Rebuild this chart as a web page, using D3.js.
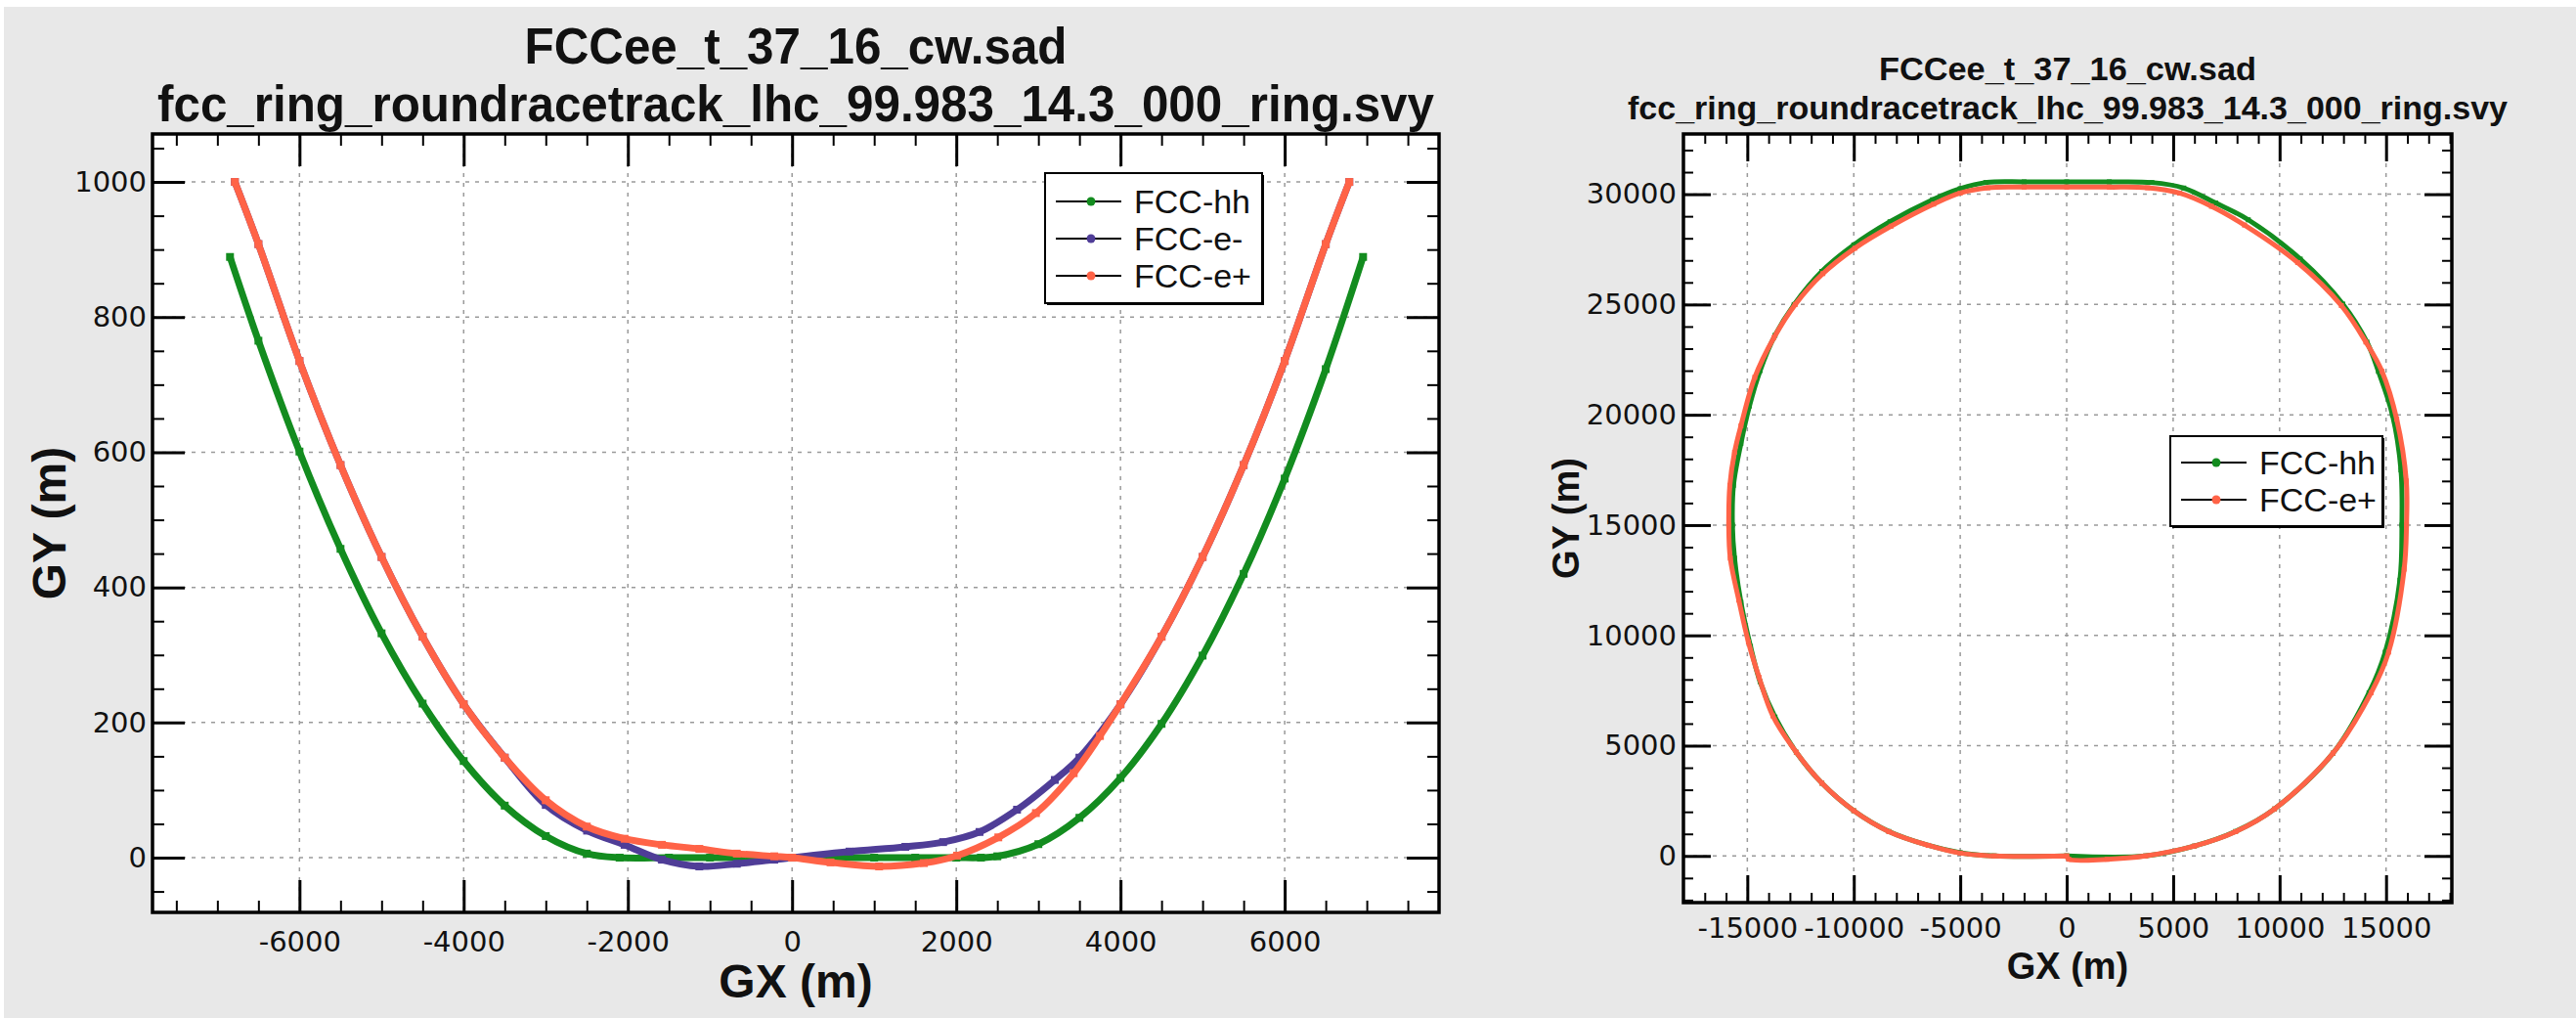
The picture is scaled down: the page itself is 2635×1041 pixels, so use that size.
<!DOCTYPE html>
<html>
<head>
<meta charset="utf-8">
<script src="https://cdn.jsdelivr.net/npm/d3@7"></script>
<style>
  body { margin: 0; background: #fff; }
  text { font-family: "Liberation Sans", Arial, sans-serif; fill: #111; }
  .tick text { font-family: "DejaVu Sans", sans-serif; font-size: 29px; fill: #111; }
</style>
</head>
<body>
<svg id="chart" width="2635" height="1041"></svg>
<script>
//Titles and labels
const titleLine1 = "FCCee_t_37_16_cw.sad";
const titleLine2 = "fcc_ring_roundracetrack_lhc_99.983_14.3_000_ring.svy";
const xTitle = "GX (m)", yTitle = "GY (m)";
const seriesNames = ["FCC-hh", "FCC-e-", "FCC-e+"];
const seriesColors = ["#138c1f", "#4f3d97", "#ff6347"];

//Left panel: zoom around the IP
const hhGX = [-6846,-6500,-6000,-5500,-5000,-4500,-4000,-3500,-3000,-2500,-2100,-1500,-1000,-500,0,500,1000,1500,2000,2300,2500,3000,3500,4000,4500,5000,5500,6000,6500,6955];
const hhGY = [889,765,601,457,332,228,143,77,32,6,0,0,0,0,0,0,0,0,0,0,2,20,59,118,198,299,420,561,723,889];
const emGX = [-6787,-6500,-6000,-5500,-5000,-4500,-4000,-3500,-3000,-2497,-2040,-1585,-1130,-673,-217,0,700,1380,1840,2283,2740,3200,3500,4000,4500,5000,5500,6000,6500,6787];
const emGY = [1000,908,735,581,445,327,227,148,78,40,19,-3,-13,-9,-3,0,9,16,23,38,71,115,148,227,327,445,581,735,908,1000];
const epGX = [-6787,-6500,-6000,-5500,-5000,-4500,-4000,-3500,-3000,-2500,-2040,-1585,-1130,-673,-217,0,468,1060,1605,2010,2512,2970,3430,3750,4000,4500,5000,5500,6000,6500,6787];
const epGY = [1000,908,735,581,445,327,227,148,85,46,28,19,13,6,2,0,-7,-13,-8,3,30,66,125,180,227,327,445,581,735,908,1000];
const leftXTicks = [-6000,-4000,-2000,0,2000,4000,6000];
const leftYTicks = [0,200,400,600,800,1000];

//Right panel: whole ring
const ringHhX = [0,-3400,-5000,-6500,-8350,-10000,-11500,-12700,-13700,-14400,-14850,-15300,-15600,-15700,-15650,-15300,-14900,-14400,-13700,-12800,-11500,-10000,-8300,-6300,-5000,-3800,-2000,0,2000,4000,5500,7000,8530,10970,12970,14100,14640,15300,15700,15745,15650,14960,14200,12510,9760,7930,6000,3700,0];
const ringHhY = [0,0,150,480,1110,2050,3300,4700,6300,7900,9500,11500,13500,15000,16800,18700,20400,22000,23600,25000,26500,27700,28750,29750,30250,30530,30560,30560,30560,30530,30280,29600,28840,27060,25020,23300,21970,20000,17500,15000,12500,9240,7400,4660,2130,1110,450,0,0];
const ringEpX = [0,-3400,-5000,-6500,-8350,-10000,-11500,-12700,-13800,-14450,-14950,-15400,-15800,-15870,-15820,-15600,-15300,-14650,-13750,-12750,-11450,-9950,-8250,-6250,-5000,-3700,-2000,0,2000,3800,5300,6800,8350,10850,12900,14050,14810,15500,15950,15960,15850,15120,14300,12510,9760,7930,6000,3700,1900,100,0];
const ringEpY = [0,0,130,480,1100,2050,3300,4700,6350,8100,9700,11600,13500,15000,16800,18300,19500,21700,23500,25000,26400,27550,28550,29550,30050,30290,30320,30320,30320,30290,30050,29450,28600,26900,24950,23300,21970,19800,17000,15000,13000,9240,7400,4660,2130,1100,450,0,-150,-150,0];
const rightXTicks = [-15000,-10000,-5000,0,5000,10000,15000];
const rightYTicks = [0,5000,10000,15000,20000,25000,30000];

const svg = d3.select("#chart");
svg.append("rect").attr("x", 4).attr("y", 7).attr("width", 2631).attr("height", 1034).attr("fill", "#e8e8e8");

function zip(xs, ys) { return xs.map(function(d, i) { return [d, ys[i]]; }); }

function drawPanel(p) {
  const g = svg.append("g");
  const x = d3.scaleLinear().domain(p.xDomain).range([p.left, p.right]);
  const y = d3.scaleLinear().domain(p.yDomain).range([p.bottom, p.top]);
  const w = p.right - p.left, h = p.bottom - p.top;

  g.append("rect").attr("x", p.left).attr("y", p.top).attr("width", w).attr("height", h).attr("fill", "#fff");

  //grid
  g.selectAll(".vgrid").data(p.xTicks).enter().append("line")
    .attr("x1", d => x(d)).attr("x2", d => x(d)).attr("y1", p.top).attr("y2", p.bottom)
    .attr("stroke", "#9a9a9a").attr("stroke-width", 1.5).attr("stroke-dasharray", "4,6");
  g.selectAll(".hgrid").data(p.yTicks).enter().append("line")
    .attr("y1", d => y(d)).attr("y2", d => y(d)).attr("x1", p.left).attr("x2", p.right)
    .attr("stroke", "#9a9a9a").attr("stroke-width", 1.5).attr("stroke-dasharray", "4,6");

  //series
  const line = d3.line().x(d => x(d[0])).y(d => y(d[1])).curve(d3.curveCatmullRom.alpha(0.5));
  p.series.forEach(function(s) {
    g.append("path").datum(s.pts).attr("d", line).attr("fill", "none")
      .attr("stroke", s.color).attr("stroke-width", p.band).attr("stroke-linejoin", "round");
    g.selectAll(null).data(s.pts).enter().append("rect")
      .attr("x", d => x(d[0]) - p.mark / 2).attr("y", d => y(d[1]) - p.mark / 2)
      .attr("width", p.mark).attr("height", p.mark).attr("fill", s.color);
  });

  //axes (ticks inside, on all four sides)
  const xMinor = d3.range(p.xDomain[0], p.xDomain[1], p.xMinorStep).map(d => Math.ceil(d / p.xMinorStep) * p.xMinorStep)
    .filter(d => d > p.xDomain[0] && d < p.xDomain[1] && p.xTicks.indexOf(d) < 0);
  const yMinor = d3.range(p.yDomain[0], p.yDomain[1], p.yMinorStep).map(d => Math.ceil(d / p.yMinorStep) * p.yMinorStep)
    .filter(d => d > p.yDomain[0] && d < p.yDomain[1] && p.yTicks.indexOf(d) < 0);

  function put(axis, tx, ty, sw) {
    const a = g.append("g").attr("transform", "translate(" + tx + "," + ty + ")").call(axis);
    a.select(".domain").remove();
    a.selectAll(".tick line").attr("stroke", "#000").attr("stroke-width", sw);
    return a;
  }
  put(d3.axisBottom(x).tickValues(p.xTicks).tickSizeInner(-p.major).tickSizeOuter(0).tickPadding(p.xPad).tickFormat(d => String(d)), 0, p.bottom, 3);
  put(d3.axisBottom(x).tickValues(xMinor).tickSizeInner(-p.minor).tickFormat(""), 0, p.bottom, 2);
  put(d3.axisTop(x).tickValues(p.xTicks).tickSizeInner(-p.major).tickFormat(""), 0, p.top, 3);
  put(d3.axisTop(x).tickValues(xMinor).tickSizeInner(-p.minor).tickFormat(""), 0, p.top, 2);
  put(d3.axisLeft(y).tickValues(p.yTicks).tickSizeInner(-p.major).tickSizeOuter(0).tickPadding(p.yPad).tickFormat(d => String(d)), p.left, 0, 3);
  put(d3.axisLeft(y).tickValues(yMinor).tickSizeInner(-p.minor).tickFormat(""), p.left, 0, 2);
  put(d3.axisRight(y).tickValues(p.yTicks).tickSizeInner(-p.major).tickFormat(""), p.right, 0, 3);
  put(d3.axisRight(y).tickValues(yMinor).tickSizeInner(-p.minor).tickFormat(""), p.right, 0, 2);

  //frame
  g.append("rect").attr("x", p.left).attr("y", p.top).attr("width", w).attr("height", h)
    .attr("fill", "none").attr("stroke", "#000").attr("stroke-width", 3.5);

  //titles
  const cx = (p.left + p.right) / 2;
  g.append("text").text(titleLine1).attr("x", cx).attr("y", p.t1y).attr("text-anchor", "middle")
    .attr("font-size", p.tSize).attr("font-weight", "bold").attr("textLength", p.t1w).attr("lengthAdjust", "spacingAndGlyphs");
  g.append("text").text(titleLine2).attr("x", cx).attr("y", p.t2y).attr("text-anchor", "middle")
    .attr("font-size", p.tSize).attr("font-weight", "bold").attr("textLength", p.t2w).attr("lengthAdjust", "spacingAndGlyphs");
  g.append("text").text(xTitle).attr("x", cx).attr("y", p.xtY).attr("text-anchor", "middle")
    .attr("font-size", p.aSize).attr("font-weight", "bold");
  g.append("text").text(yTitle).attr("text-anchor", "middle").attr("dy", "0.36em")
    .attr("transform", "translate(" + p.ytX + "," + ((p.top + p.bottom) / 2) + ") rotate(-90)")
    .attr("font-size", p.aSize).attr("font-weight", "bold");

  //legend
  const L = p.legend;
  g.append("rect").attr("x", L.x + 2).attr("y", L.y + 2).attr("width", L.w).attr("height", L.h).attr("fill", "#000");
  g.append("rect").attr("x", L.x).attr("y", L.y).attr("width", L.w).attr("height", L.h)
    .attr("fill", "#fff").attr("stroke", "#000").attr("stroke-width", 2);
  p.series.forEach(function(s, i) {
    const ry = L.y + L.first + i * L.step;
    g.append("line").attr("x1", L.x + 11).attr("x2", L.x + 78).attr("y1", ry).attr("y2", ry).attr("stroke", "#000").attr("stroke-width", 2);
    g.append("circle").attr("cx", L.x + 47).attr("cy", ry).attr("r", 4.5).attr("fill", s.color);
    g.append("text").text(s.name).attr("x", L.x + 91).attr("y", ry + 12).attr("font-size", 34);
  });
}

drawPanel({
  left: 156, right: 1472, top: 137, bottom: 933,
  xDomain: [-7790, 7880], yDomain: [-81, 1071],
  xTicks: leftXTicks, yTicks: leftYTicks, xMinorStep: 500, yMinorStep: 50,
  major: 33, minor: 12, xPad: 19, yPad: 6, band: 7, mark: 8,
  t1y: 65, t2y: 124, tSize: 52, t1w: 555, t2w: 1306,
  xtY: 1020, ytX: 50, aSize: 48,
  series: [
    {name: seriesNames[0], color: seriesColors[0], pts: zip(hhGX, hhGY)},
    {name: seriesNames[1], color: seriesColors[1], pts: zip(emGX, emGY)},
    {name: seriesNames[2], color: seriesColors[2], pts: zip(epGX, epGY)}
  ],
  legend: {x: 1069, y: 177, w: 222, h: 133, first: 29, step: 38}
});

drawPanel({
  left: 1722, right: 2508, top: 137, bottom: 923,
  xDomain: [-18000, 18090], yDomain: [-2115, 32730],
  xTicks: rightXTicks, yTicks: rightYTicks, xMinorStep: 1000, yMinorStep: 1000,
  major: 28, minor: 10, xPad: 15, yPad: 7, band: 5, mark: 5,
  t1y: 82, t2y: 122, tSize: 34, t1w: 386, t2w: 900,
  xtY: 1001, ytX: 1601, aSize: 38,
  series: [
    {name: seriesNames[0], color: seriesColors[0], pts: zip(ringHhX, ringHhY)},
    {name: seriesNames[2], color: seriesColors[2], pts: zip(ringEpX, ringEpY)}
  ],
  legend: {x: 2220, y: 446, w: 217, h: 92, first: 27, step: 38}
});
</script>
</body>
</html>
